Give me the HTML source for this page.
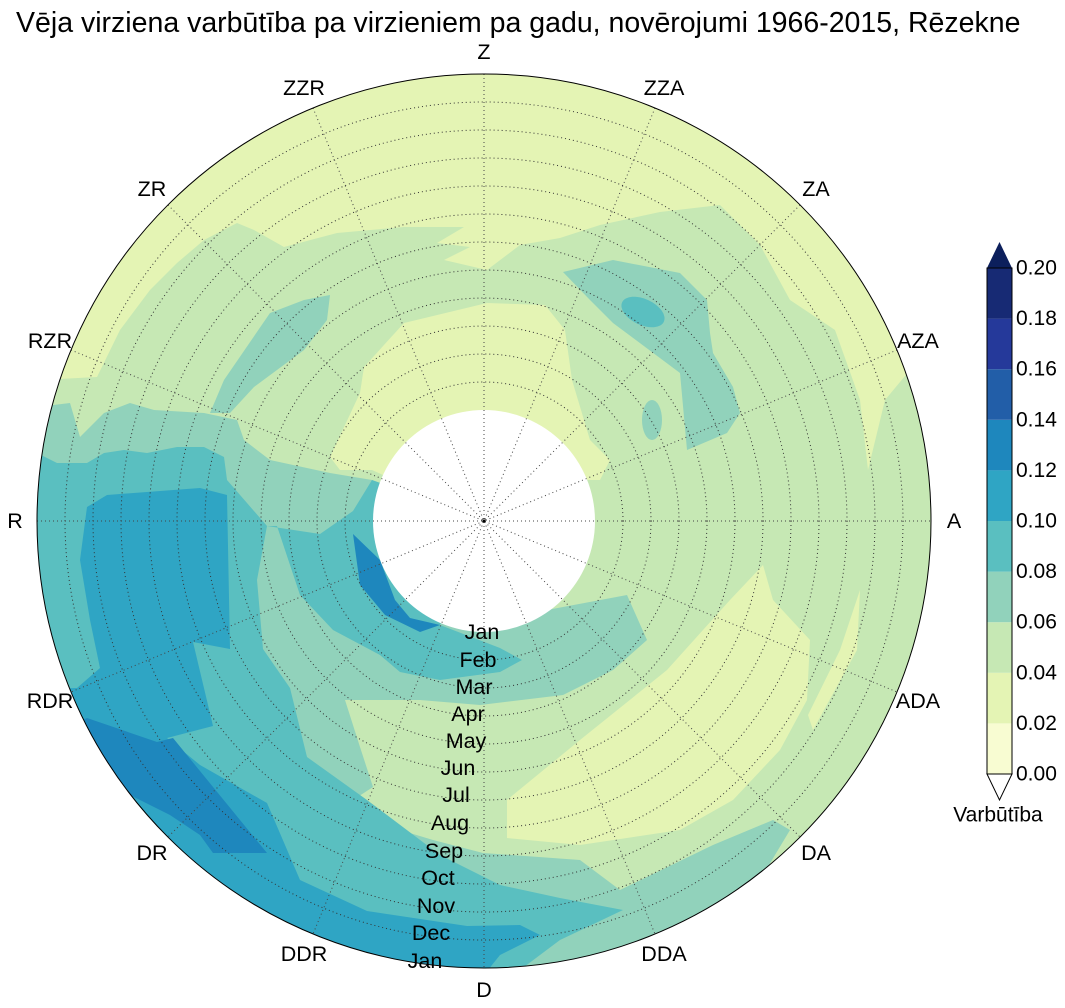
<!DOCTYPE html>
<html><head><meta charset="utf-8"><style>
body{margin:0;background:#fff;width:1065px;height:1008px;overflow:hidden}
svg{display:block;font-family:"Liberation Sans",Arial,sans-serif}
</style></head><body>
<svg width="1065" height="1008" viewBox="0 0 1065 1008">
<defs><clipPath id="c"><circle cx="484" cy="521" r="447"/></clipPath></defs>
<text x="16" y="32" font-size="28.5">Vēja virziena varbūtība pa virzieniem pa gadu, novērojumi 1966-2015, Rēzekne</text>
<g clip-path="url(#c)">
<rect x="0" y="0" width="1065" height="1008" fill="#c6e8b4"/>
<path fill="#e4f4b4" d="M40,380 L97,377 L120,330 L150,290 L177,263 L204,240 L237,223 L254,230 L284,247 L337,233 L404,227 L464,227 L437,243 L470,247 L444,260 L487,270 L520,245 L560,238 L600,225 L660,212 L720,205 L760,245 L790,300 L835,330 L860,400 L868,470 L885,400 L910,370 L950,360 L950,0 L0,0 L0,380 Z"/>
<path fill="#e4f4b4" d="M372,470 L340,470 L330,457 L360,393 L364,367 L404,323 L487,303 L545,305 L565,330 L572,380 L590,440 L610,460 L600,480 L560,480 L484,521 Z"/>
<path fill="#91d2bb" d="M37,407 L70,403 L80,437 L104,413 L130,403 L154,410 L204,413 L237,420 L244,440 L270,460 L330,473 L372,480 L484,521 L480,630 L547,610 L627,595 L647,640 L613,670 L563,695 L480,705 L420,700 L345,700 L360,747 L373,787 L353,800 L367,820 L433,840 L483,853 L580,860 L620,890 L713,845 L773,820 L790,830 L760,880 L700,940 L484,1010 L0,1010 L0,407 Z"/>
<path fill="#91d2bb" d="M330,295 L327,320 L304,350 L254,387 L230,413 L210,413 L224,380 L270,313 L304,300 Z"/>
<path fill="#91d2bb" d="M563,272 L613,260 L680,273 L707,300 L710,333 L713,353 L733,387 L740,413 L727,433 L687,450 L680,373 L613,323 L590,300 Z"/>
<ellipse cx="643" cy="312" rx="23" ry="13" transform="rotate(25 643 312)" fill="#5abfc0"/>
<ellipse cx="652" cy="420" rx="10" ry="20" fill="#91d2bb"/>
<path fill="#e4f4b4" d="M507,838 L507,800 L580,740 L667,670 L730,600 L763,565 L773,600 L810,640 L807,700 L780,750 L733,800 L680,830 L580,845 Z"/>
<path fill="#e4f4b4" d="M860,590 L857,650 L813,730 L808,715 L840,650 Z"/>
<path fill="#5abfc0" d="M0,453 L37,453 L57,463 L87,463 L104,453 L124,450 L147,453 L177,447 L204,447 L224,457 L227,480 L247,503 L267,526 L257,580 L263,649 L290,688 L307,757 L367,800 L440,855 L500,885 L560,898 L623,910 L560,940 L520,970 L484,1000 L0,1010 Z"/>
<path fill="#5abfc0" d="M267,526 L320,534 L353,511 L372,480 L484,521 L440,625 L500,648 L522,660 L500,672 L440,680 L400,672 L380,655 L333,630 L300,595 L277,526 Z"/>
<path fill="#2fa5c4" d="M87,507 L107,495 L200,488 L227,495 L230,649 L193,642 L213,726 L167,738 L200,765 L267,803 L300,880 L367,911 L467,926 L520,925 L540,935 L500,955 L484,975 L300,1010 L0,1010 L0,690 L77,688 L100,668 L90,620 L80,560 Z"/>
<path fill="#1e87bd" d="M87,718 L157,742 L173,738 L267,853 L213,853 L200,835 L170,815 L100,780 L0,760 Z"/>
<path fill="#1e87bd" d="M353,534 L380,560 L395,600 L410,618 L440,625 L420,632 L385,615 L360,585 Z"/>
<g fill="none" stroke="#333" stroke-width="1" stroke-dasharray="1,3">
<circle cx="484" cy="521" r="139"/><circle cx="484" cy="521" r="167"/><circle cx="484" cy="521" r="195"/><circle cx="484" cy="521" r="223"/><circle cx="484" cy="521" r="251"/><circle cx="484" cy="521" r="279"/><circle cx="484" cy="521" r="307"/><circle cx="484" cy="521" r="335"/><circle cx="484" cy="521" r="363"/><circle cx="484" cy="521" r="391"/><circle cx="484" cy="521" r="419"/>
</g>
<circle cx="484" cy="521" r="111" fill="#fff"/>
<g stroke="#444" stroke-width="1" stroke-dasharray="1,3">
<line x1="484" y1="74" x2="484" y2="968"/><line x1="37" y1="521" x2="931" y2="521"/>
<line x1="313" y1="108" x2="655" y2="934"/><line x1="655" y1="108" x2="313" y2="934"/>
<line x1="168" y1="205" x2="800" y2="837"/><line x1="800" y1="205" x2="168" y2="837"/>
<line x1="71" y1="350" x2="897" y2="692"/><line x1="897" y1="350" x2="71" y2="692"/>
</g>
</g>
<circle cx="484" cy="521" r="447" fill="none" stroke="#000" stroke-width="1"/>
<circle cx="484" cy="521" r="1.5" fill="#000"/>
<g font-size="21.5" text-anchor="middle" dominant-baseline="central">
<text x="484" y="52">Z</text><text x="664" y="88">ZZA</text><text x="816" y="189">ZA</text><text x="918" y="341">AZA</text>
<text x="954" y="521">A</text><text x="918" y="701">ADA</text><text x="816" y="853">DA</text><text x="664" y="954">DDA</text>
<text x="484" y="990">D</text><text x="304" y="954">DDR</text><text x="152" y="853">DR</text><text x="50" y="701">RDR</text>
<text x="15" y="521">R</text><text x="50" y="341">RZR</text><text x="152" y="189">ZR</text><text x="304" y="88">ZZR</text>
<text x="482" y="632">Jan</text><text x="478" y="660">Feb</text><text x="474" y="687">Mar</text><text x="468" y="714">Apr</text>
<text x="466" y="741">May</text><text x="458" y="768">Jun</text><text x="456" y="795">Jul</text><text x="450" y="823">Aug</text>
<text x="444" y="851">Sep</text><text x="438" y="878">Oct</text><text x="436" y="906">Nov</text><text x="431" y="933">Dec</text><text x="425" y="961">Jan</text>
</g>
<g>
<rect x="987" y="723.4" width="25" height="50.6" fill="#f8fcd2"/>
<rect x="987" y="672.8" width="25" height="50.6" fill="#e4f4b4"/>
<rect x="987" y="622.2" width="25" height="50.6" fill="#c6e8b4"/>
<rect x="987" y="571.6" width="25" height="50.6" fill="#91d2bb"/>
<rect x="987" y="521" width="25" height="50.6" fill="#5abfc0"/>
<rect x="987" y="470.4" width="25" height="50.6" fill="#2fa5c4"/>
<rect x="987" y="419.8" width="25" height="50.6" fill="#1e87bd"/>
<rect x="987" y="369.2" width="25" height="50.6" fill="#225ea8"/>
<rect x="987" y="318.6" width="25" height="50.6" fill="#25399a"/>
<rect x="987" y="268" width="25" height="50.6" fill="#172a74"/>
<polygon points="987,268 999.5,242 1012,268" fill="#0c1f5c"/>
<polygon points="987,774 999.5,800 1012,774" fill="#fff" stroke="#000" stroke-width="1"/>
<rect x="987" y="268" width="25" height="506" fill="none" stroke="#000" stroke-width="1"/>
</g>
<g font-size="21" dominant-baseline="central">
<text x="1016" y="268">0.20</text><text x="1016" y="318.6">0.18</text><text x="1016" y="369.2">0.16</text><text x="1016" y="419.8">0.14</text><text x="1016" y="470.4">0.12</text><text x="1016" y="521">0.10</text><text x="1016" y="571.6">0.08</text><text x="1016" y="622.2">0.06</text><text x="1016" y="672.8">0.04</text><text x="1016" y="723.4">0.02</text><text x="1016" y="774">0.00</text>
<text x="998" y="815" text-anchor="middle">Varbūtība</text>
</g>
</svg>
</body></html>
